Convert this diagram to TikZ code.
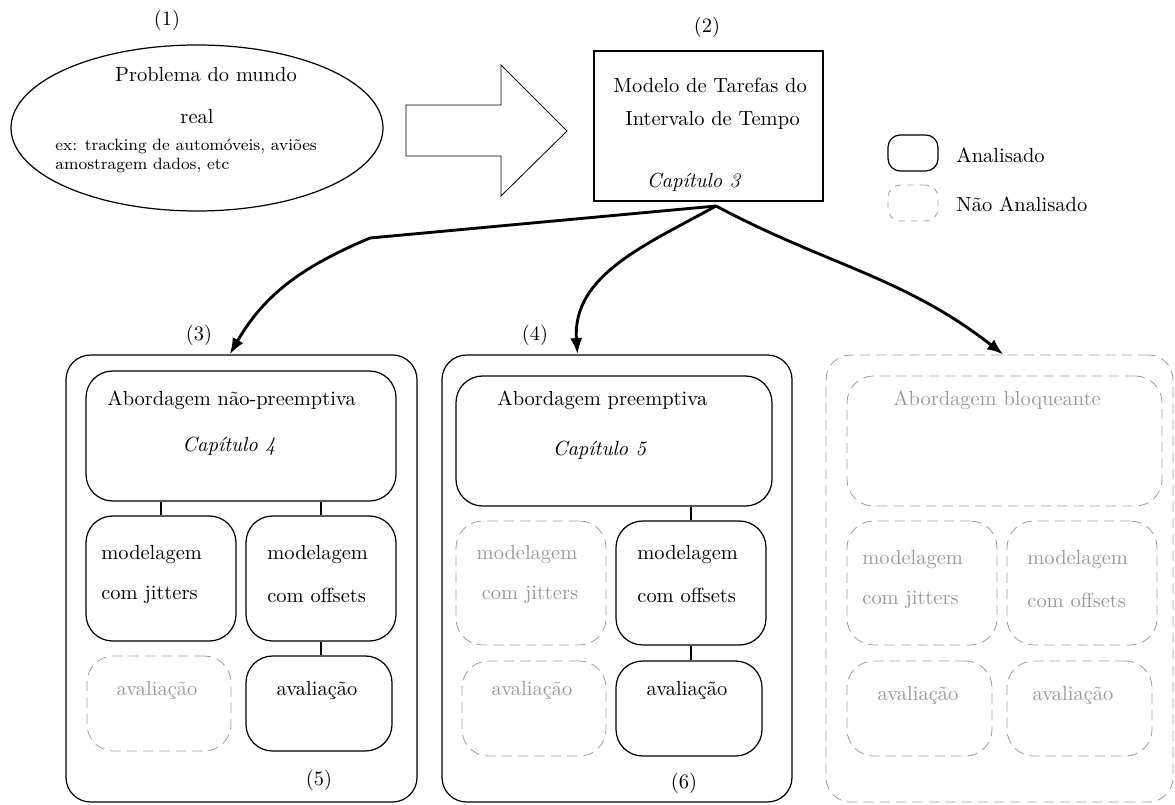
\documentclass[tikz,border=0pt]{standalone}
\usepackage{fontspec}
\usetikzlibrary{shapes.geometric}
\usetikzlibrary{arrows.meta}
\newcommand{\pxu}{0.4888pt}
\definecolor{cinza}{gray}{0.6}
\definecolor{tracejado}{gray}{0.62}
\tikzstyle{caixa}=[draw, semithick, rounded corners=13pt, inner sep=0]
\tikzstyle{caixa cinza}=[draw=tracejado, dash pattern=on 5pt off 3pt, rounded corners=13pt, inner sep=0]
\tikzstyle{bloco}=[draw, semithick, rounded corners=12pt, inner sep=0]
\tikzstyle{bloco cinza}=[draw=tracejado, dash pattern=on 5pt off 3pt, rounded corners=12pt, inner sep=0]
\tikzstyle{rotulo}=[inner sep=0]
\tikzstyle{rotulo cinza}=[inner sep=0, text=cinza]
\tikzstyle{seta}=[-{Latex[length=8pt, width=6pt]}, line width=1.4pt]
\tikzset{tamanho/.style 2 args={minimum width=#1*\pxu, minimum height=#2*\pxu}}

\begin{document}
\begin{tikzpicture}[x=\pxu, y=-\pxu]
      \useasboundingbox (0, 0) rectangle (1175, 805);

      % problema e modelo
      \node[rotulo] (n1) at (167, 20) {(1)};
      \node[draw, semithick, ellipse, inner sep=0, tamanho={372}{166}] (problema) at (197, 128) {};
      \node[rotulo] (problema_a) at (206, 75) {Problema do mundo};
      \node[rotulo] (problema_b) at (197, 117) {real};
      \node[rotulo, anchor=west, align=left, font=\footnotesize] (exemplo) at (55, 156) {ex: tracking de automóveis, aviões\\amostragem dados, etc};

      \draw (406, 105) -- (501, 105) -- (501, 65) -- (567, 131) -- (501, 196) -- (501, 156) -- (406, 156) -- cycle;

      \node[rotulo] (n2) at (707, 27) {(2)};
      \node[draw, semithick, inner sep=0, tamanho={229}{150}] (modelo) at (708.5, 126) {};
      \node[rotulo, anchor=west] (modelo_a) at (613, 85) {Modelo de Tarefas do};
      \node[rotulo, anchor=west] (modelo_b) at (625, 120) {Intervalo de Tempo};
      \node[rotulo] (cap3) at (694, 182) {\textit{Capítulo 3}};

      % legenda
      \node[draw, semithick, rounded corners=6pt, tamanho={50}{36}] (leg_sim) at (913, 153) {};
      \node[draw=tracejado, dashed, rounded corners=6pt, tamanho={50}{36}] (leg_nao) at (913, 203) {};
      \node[rotulo, anchor=west] at (956, 155) {Analisado};
      \node[rotulo, anchor=west] at (956, 204) {Não Analisado};

      % abordagem nao-preemptiva
      \node[rotulo] (n3) at (199, 335) {(3)};
      \node[bloco, tamanho={351}{447}] (outer3) at (241.5, 578.5) {};
      \node[caixa, tamanho={310}{130}] (top3) at (241, 436) {};
      \node[rotulo, anchor=west] at (107, 400) {Abordagem não-preemptiva};
      \node[rotulo] at (229, 446) {\textit{Capítulo 4}};
      \node[caixa, tamanho={150}{125}] (jit3) at (161, 578.5) {};
      \node[rotulo, anchor=west] at (101, 555) {modelagem};
      \node[rotulo, anchor=west] at (101, 595) {com jitters};
      \node[caixa, tamanho={150}{125}] (off3) at (321, 578.5) {};
      \node[rotulo, anchor=west] at (267, 555) {modelagem};
      \node[rotulo, anchor=west] at (267, 595) {com offsets};
      \node[caixa cinza, tamanho={144}{95}] (aval3g) at (159, 703.5) {};
      \node[rotulo cinza] at (157, 690) {avaliação};
      \node[caixa, tamanho={146}{95}] (aval3) at (319, 703.5) {};
      \node[rotulo] at (317, 690) {avaliação};
      \node[rotulo] (n5) at (319, 780) {(5)};

      \draw[semithick] (top3.south -| jit3.north) -- (jit3.north);
      \draw[semithick] (top3.south -| off3.north) -- (off3.north);
      \draw[semithick] (off3.south) -- (off3.south |- aval3.north);

      % abordagem preemptiva
      \node[rotulo] (n4) at (535, 335) {(4)};
      \node[bloco, tamanho={350}{447}] (outer4) at (617, 578.5) {};
      \node[caixa, tamanho={316}{130}] (top4) at (614, 441) {};
      \node[rotulo, anchor=west] at (497, 400) {Abordagem preemptiva};
      \node[rotulo] at (600, 450) {\textit{Capítulo 5}};
      \node[caixa cinza, tamanho={150}{124}] (jit4) at (531, 583) {};
      \node[rotulo cinza] at (527, 555) {modelagem};
      \node[rotulo cinza] at (530, 595) {com jitters};
      \node[caixa, tamanho={150}{124}] (off4) at (691, 583) {};
      \node[rotulo, anchor=west] at (637, 555) {modelagem};
      \node[rotulo, anchor=west] at (637, 595) {com offsets};
      \node[caixa cinza, tamanho={144}{95}] (aval4g) at (534, 708.5) {};
      \node[rotulo cinza] at (532, 690) {avaliação};
      \node[caixa, tamanho={146}{95}] (aval4) at (689, 708.5) {};
      \node[rotulo] at (687, 690) {avaliação};
      \node[rotulo] (n6) at (684, 783) {(6)};

      \draw[semithick] (off4.north) -- (off4.north |- top4.south);
      \draw[semithick] (off4.south) -- (off4.south |- aval4.north);

      % abordagem bloqueante
      \node[bloco cinza, tamanho={347}{447}] (outer5) at (999.5, 578.5) {};
      \node[caixa cinza, tamanho={315}{130}] (top5) at (1004.5, 441) {};
      \node[rotulo cinza] at (997, 400) {Abordagem bloqueante};
      \node[caixa cinza, tamanho={150}{124}] (jit5) at (922, 583) {};
      \node[rotulo cinza, anchor=west] at (862, 560) {modelagem};
      \node[rotulo cinza, anchor=west] at (862, 600) {com jitters};
      \node[caixa cinza, tamanho={150}{124}] (off5) at (1082, 583) {};
      \node[rotulo cinza, anchor=west] at (1027, 560) {modelagem};
      \node[rotulo cinza, anchor=west] at (1027, 600) {com offsets};
      \node[caixa cinza, tamanho={145}{95}] (aval5a) at (919.5, 708.5) {};
      \node[rotulo cinza] at (918, 695) {avaliação};
      \node[caixa cinza, tamanho={145}{95}] (aval5b) at (1079.5, 708.5) {};
      \node[rotulo cinza] at (1073, 695) {avaliação};

      % setas
      \coordinate (saida) at (716, 206);
      \coordinate (dobra) at (370, 238);
      \draw[seta] (saida) -- (dobra) to[out=203, in=60] (outer3.93);
      \draw[seta] (saida) to[out=209, in=94] (outer4.100);
      \draw[seta] (saida) to[out=-28, in=142] (outer5.89);
    \end{tikzpicture}
\end{document}
